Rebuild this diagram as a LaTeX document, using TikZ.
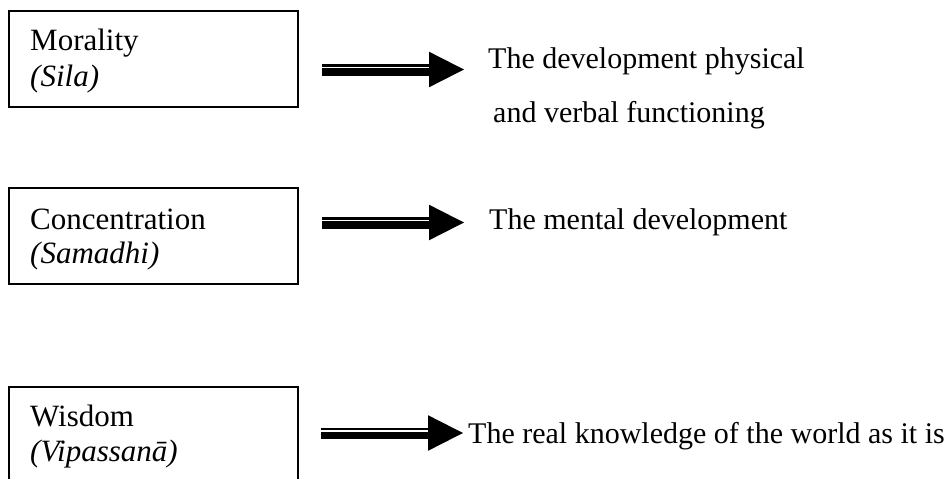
\documentclass[tikz,border=0pt]{standalone}
\usepackage{fontspec}
\setmainfont{Liberation Serif}
\usetikzlibrary{calc}

% Wide arrow: thin upper rule, thick lower rule and a solid triangular head.
% #1 = tail coordinate, #2 = tip coordinate (same height)
\newcommand\ruledarrow[2]{%
  \fill ($(#1)+(0,-5.5)$) rectangle ($(#2)+(-34,-2.8)$);
  \fill ($(#1)+(0,-1.2)$) rectangle ($(#2)+(-34,6.2)$);
  \fill ($(#2)+(-35,-17.8)$) -- (#2) -- ($(#2)+(-35,17.8)$) -- cycle;
}

\tikzset{
  frame/.style={draw, line width=2pt},
  lefttxt/.style={anchor=base west, inner sep=0pt, font=\fontsize{31}{36}\selectfont},
  txt/.style={anchor=base west, inner sep=0pt, font=\fontsize{30}{36}\selectfont},
}

\begin{document}
\begin{tikzpicture}[x=1pt, y=-1pt]
\useasboundingbox (0,0) rectangle (950,479);

% left-hand boxes
\draw[frame] (9,11) rectangle (298,107);
\draw[frame] (9,188) rectangle (298,284);
\draw[frame] (9,387) rectangle (298,492);

\node[lefttxt] (moral)  at (30,50)  {Morality};
\node[lefttxt] (sila)   at (30,86)  {\itshape (Sila)};
\node[lefttxt] (conc)   at (30,229) {Concentration};
\node[lefttxt] (sam)    at (30,263) {\itshape (Samadhi)};
\node[lefttxt] (wis)    at (30,426) {Wisdom};
\node[lefttxt] (vip)    at (30,461) {\itshape (Vipassanā)};

% right-hand descriptions
\node[txt] (phys)   at (488,68)  {The development physical};
\node[txt] (verb)   at (493,122) {and verbal functioning};
\node[txt] (mental) at (489,229) {The mental development};
\node[txt] (real)   at (468,443) {The real knowledge of the world as it is};

% arrows between the columns
\coordinate (t1) at (322,69.5);  \coordinate (h1) at (464,69.5);
\coordinate (t2) at (322,222.5); \coordinate (h2) at (464,222.5);
\coordinate (t3) at (321,433);   \coordinate (h3) at (463,433);
\ruledarrow{t1}{h1}
\ruledarrow{t2}{h2}
\ruledarrow{t3}{h3}
\end{tikzpicture}
\end{document}
